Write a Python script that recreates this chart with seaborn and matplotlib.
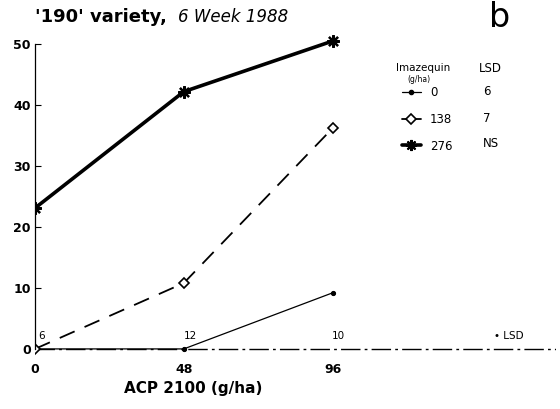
import matplotlib
matplotlib.use("Agg")
import matplotlib.pyplot as plt
import seaborn as sns
import pandas as pd
from matplotlib.lines import Line2D

# ---- data ----
acp_rates = [0, 48, 96]
imaz_0 = [0, 0, 9.2]
imaz_138 = [0, 10.8, 36.2]
imaz_276 = [23.1, 42.2, 50.5]
imaz_labels = ["0", "138", "276"]
imaz_lsd = ["6", "7", "NS"]
acp_lsd = ["6", "12", "10"]
y_ticks = [0, 10, 20, 30, 40, 50]

sns.set_theme(style="white")
plt.rcParams["font.family"] = ["DejaVu Sans"]
plt.rcParams["text.color"] = "black"
plt.rcParams["axes.labelcolor"] = "black"
plt.rcParams["xtick.color"] = "black"
plt.rcParams["ytick.color"] = "black"

df = pd.DataFrame({
    "ACP": acp_rates * 3,
    "value": imaz_0 + imaz_138 + imaz_276,
    "Imazequin": sum([[l] * len(acp_rates) for l in imaz_labels], []),
})

star = (8, 2, 0)

fig = plt.figure(figsize=(5.6, 4.09), dpi=100)
ax = fig.add_axes([0.0625, 0.132, 0.93, 0.79])

sns.lineplot(data=df[df.Imazequin == "0"], x="ACP", y="value", ax=ax,
             color="black", lw=0.9, marker="o", markersize=3,
             markeredgecolor="black", legend=False)
sns.lineplot(data=df[df.Imazequin == "138"], x="ACP", y="value", ax=ax,
             color="black", lw=1.3, marker="D", markersize=5,
             markerfacecolor="white", markeredgecolor="black", markeredgewidth=1.2,
             legend=False)
ax.lines[-1].set_dashes([9, 6])
sns.lineplot(data=df[df.Imazequin == "276"], x="ACP", y="value", ax=ax,
             color="black", lw=2.6, marker=star, markersize=9,
             markeredgecolor="black", markeredgewidth=1.6, legend=False)

# baseline dash-dot
ax.axhline(0, color="black", lw=1.0, dashes=[14, 3, 2, 3], zorder=1)

ax.set_xlim(0, 168)
ax.set_ylim(-1, 52)
ax.set_xticks(acp_rates)
ax.set_xticklabels([str(v) for v in acp_rates], fontweight="bold", fontsize=9)
ax.set_yticks(y_ticks)
ax.set_yticklabels([str(v) for v in y_ticks], fontweight="bold", fontsize=9)
ax.tick_params(axis="y", direction="in", length=4, width=0.8, left=True, pad=3, colors="black")
ax.tick_params(axis="x", length=0, pad=6, colors="black")
for s in ["top", "right", "bottom"]:
    ax.spines[s].set_visible(False)
ax.spines["left"].set_bounds(0, 50)
ax.spines["left"].set_color("black")
ax.spines["left"].set_linewidth(0.9)
ax.set_xlabel("ACP 2100 (g/ha)", fontweight="bold", fontsize=11)
ax.xaxis.set_label_coords(0.303, -0.08)
ax.set_ylabel("")

# LSD values along x
for xv, t in zip(acp_rates, acp_lsd):
    ax.text(xv + 2, 2.2, t, fontsize=7.5, ha="center", va="center")
ax.text(153, 2.2, "• LSD", fontsize=7.5, ha="center", va="center")

# title
fig.text(0.0625, 0.958, "'190' variety,", fontweight="bold", fontsize=13, ha="left", va="center")
fig.text(0.318, 0.958, "6 Week 1988", fontstyle="italic", fontsize=12, ha="left", va="center")
fig.text(0.893, 0.958, "b", fontsize=24, ha="center", va="center")

# legend
handles = [
    Line2D([], [], color="black", lw=0.9, marker="o", markersize=3),
    Line2D([], [], color="black", lw=1.3, marker="D", markersize=5,
           markerfacecolor="white", markeredgewidth=1.2),
    Line2D([], [], color="black", lw=2.6, marker=star, markersize=8, markeredgewidth=1.5),
]
leg = ax.legend(handles, imaz_labels, loc="upper left", bbox_to_anchor=(0.695, 0.846),
                frameon=False, fontsize=8.5, handlelength=1.6, handletextpad=0.8,
                labelspacing=1.15, borderaxespad=0)
fig.text(0.708, 0.834, "Imazequin", fontsize=7.5, ha="left", va="center")
fig.text(0.727, 0.806, "(g/ha)", fontsize=5.5, ha="left", va="center")
fig.text(0.855, 0.832, "LSD", fontsize=8.5, ha="left", va="center")
for yy, t in zip([0.777, 0.711, 0.650], imaz_lsd):
    fig.text(0.862, yy, t, fontsize=8.5, ha="left", va="center")

fig.savefig("out.png", dpi=100)
